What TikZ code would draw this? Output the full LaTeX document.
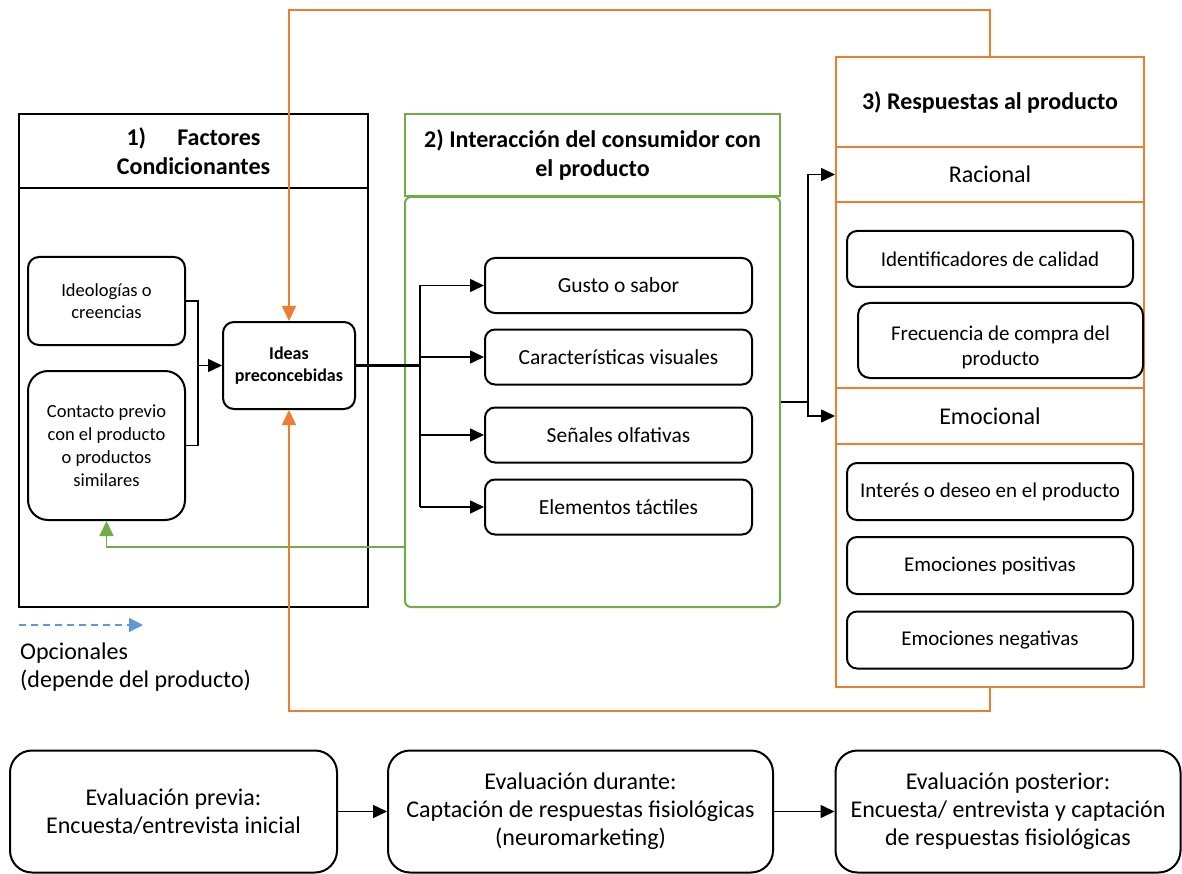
\documentclass[tikz,border=0pt]{standalone}
\usepackage{fontspec}
\setmainfont{Carlito}
\usepackage{tikz}
\usetikzlibrary{shapes,arrows.meta,positioning}
\definecolor{verde}{HTML}{70AD47}
\definecolor{naranja}{HTML}{ED7D31}
\definecolor{azul}{HTML}{5B9BD5}
\tikzstyle{marco} = [rectangle, draw, line width=2pt, align=center, inner sep=0pt]
\tikzstyle{caja} = [rectangle, draw, line width=2pt, rounded corners=11pt, align=center, inner sep=2pt]
\tikzstyle{linea} = [draw, line width=1.6pt, -{Triangle[length=14pt,width=13pt]}]
\tikzstyle{bucle} = [draw, line width=1.6pt, -{Triangle[length=15pt,width=14pt]}]

\begin{document}
\begin{tikzpicture}[x=1pt, y=-1pt]
    \useasboundingbox (0,0) rectangle (1182,874);
    % Factores condicionantes
    \node [marco, minimum width=349pt, minimum height=74pt, font=\fontsize{24}{29}\selectfont\bfseries] (fac_head) at (193.5,151) {1)\hspace{1.3em}Factores\\Condicionantes};
    \node [marco, minimum width=349pt, minimum height=419pt] (fac_body) at (193.5,397.5) {};
    \node [caja, minimum width=157pt, minimum height=88pt, font=\fontsize{18.5}{22}\selectfont] (ideologias) at (106.5,301) {Ideologías o\\creencias};
    \node [caja, rounded corners=20pt, minimum width=157pt, minimum height=149pt, font=\fontsize{18.5}{23}\selectfont] (contacto) at (106.5,445.5) {Contacto previo\\con el producto\\o productos\\similares};
    \node [caja, minimum width=132pt, minimum height=87pt, font=\fontsize{18}{22}\selectfont\bfseries] (ideas) at (289,365.5) {Ideas\\preconcebidas};

    % Interaccion
    \node [marco, draw=verde, minimum width=375pt, minimum height=82pt, font=\fontsize{24}{29}\selectfont\bfseries] (int_head) at (592.5,155) {2) Interacción del consumidor con\\el producto};
    \node [marco, draw=verde, rounded corners=6pt, minimum width=375pt, minimum height=410pt] (int_body) at (592.5,402) {};
    \node [caja, rounded corners=10pt, minimum width=267pt, minimum height=55pt, font=\fontsize{21.5}{24}\selectfont] (gusto) at (618.5,285.5) {Gusto o sabor};
    \node [caja, rounded corners=10pt, minimum width=267pt, minimum height=55pt, font=\fontsize{21.5}{24}\selectfont] (visual) at (618.5,357) {Características visuales};
    \node [caja, rounded corners=10pt, minimum width=267pt, minimum height=55pt, font=\fontsize{21.5}{24}\selectfont] (olfato) at (618.5,435) {Señales olfativas};
    \node [caja, rounded corners=10pt, minimum width=267pt, minimum height=55pt, font=\fontsize{21.5}{24}\selectfont] (tacto) at (618.5,507) {Elementos táctiles};

    % Respuestas
    \node [marco, draw=naranja, minimum width=308pt, minimum height=90pt, font=\fontsize{24}{27}\selectfont\bfseries] (resp_head) at (990,102) {3) Respuestas al producto};
    \node [marco, draw=naranja, minimum width=308pt, minimum height=55pt, font=\fontsize{24}{27}\selectfont] (racional) at (990,174.5) {Racional};
    \node [marco, draw=naranja, minimum width=308pt, minimum height=186pt] (rac_body) at (990,295) {};
    \node [marco, draw=naranja, minimum width=308pt, minimum height=56pt, font=\fontsize{24}{27}\selectfont] (emocional) at (990,416) {Emocional};
    \node [marco, draw=naranja, minimum width=308pt, minimum height=243pt] (emo_body) at (990,565.5) {};
    \node [caja, rounded corners=10pt, minimum width=286pt, minimum height=56pt, font=\fontsize{21}{24}\selectfont] (calidad) at (990,259) {Identificadores de calidad};
    \node [caja, rounded corners=12pt, minimum width=285pt, minimum height=75pt, font=\fontsize{21}{25}\selectfont] (frecuencia) at (1000.5,340.5) {\rule{0pt}{28pt}Frecuencia de compra del\\producto};
    \node [caja, rounded corners=10pt, minimum width=286pt, minimum height=57pt, font=\fontsize{21}{24}\selectfont] (interes) at (990,491.5) {Interés o deseo en el producto};
    \node [caja, rounded corners=10pt, minimum width=286pt, minimum height=57pt, font=\fontsize{21}{24}\selectfont] (positivas) at (990,565.5) {Emociones positivas};
    \node [caja, rounded corners=10pt, minimum width=286pt, minimum height=57pt, font=\fontsize{21}{24}\selectfont] (negativas) at (990,640) {Emociones negativas};

    % Leyenda
    \coordinate (ley_a) at (19,625);
    \coordinate (ley_b) at (143,625);
    \draw [azul, line width=1.4pt, dash pattern=on 7pt off 5pt, -{Triangle[length=14pt,width=14pt]}] (ley_a) -- (ley_b);
    \node [anchor=north west, align=left, inner sep=0pt, font=\fontsize{24}{28}\selectfont] (opcionales) at (20,643) {Opcionales\\(depende del producto)};

    % Evaluaciones
    \node [caja, rounded corners=22pt, minimum width=327pt, minimum height=122pt, font=\fontsize{24}{28}\selectfont] (eval_1) at (173.5,811.5) {Evaluación previa:\\Encuesta/entrevista inicial};
    \node [caja, rounded corners=22pt, minimum width=385pt, minimum height=122pt, font=\fontsize{24}{28}\selectfont] (eval_2) at (580.5,811.5) {Evaluación durante:\\Captación de respuestas fisiológicas\\(neuromarketing)};
    \node [caja, rounded corners=22pt, minimum width=345pt, minimum height=122pt, font=\fontsize{24}{28}\selectfont] (eval_3) at (1008,811.5) {Evaluación posterior:\\Encuesta/ entrevista y captación\\de respuestas fisiológicas};

    % Conectores
    \draw [line width=1.6pt] (ideologias.east) -| (198,445.5) -- (contacto.east);
    \path [linea] (198,365.5) -- (ideas.west);
    \draw [line width=2.4pt] (ideas.east) -- (420,365.5);
    \draw [line width=1.6pt] (420,285.5) -- (420,507);
    \path [linea] (420,285.5) -- (gusto.west);
    \path [linea] (420,357) -- (visual.west);
    \path [linea] (420,435) -- (olfato.west);
    \path [linea] (420,507) -- (tacto.west);
    \draw [line width=2pt] (int_body.east |- 0,402) -- (808,402);
    \path [linea] (808,402) |- (racional.west);
    \path [linea] (808,402) |- (emocional.west);
    \path [bucle, draw=verde] (int_body.west |- 0,547) -| (contacto.south);
    \path [bucle, draw=naranja] (resp_head.north) |- (289,10) -- (ideas.north);
    \path [bucle, draw=naranja] (emo_body.south) |- (289,711) -- (ideas.south);
    \path [linea] (eval_1.east) -- (eval_2.west);
    \path [linea] (eval_2.east) -- (eval_3.west);

\end{tikzpicture}
\end{document}
